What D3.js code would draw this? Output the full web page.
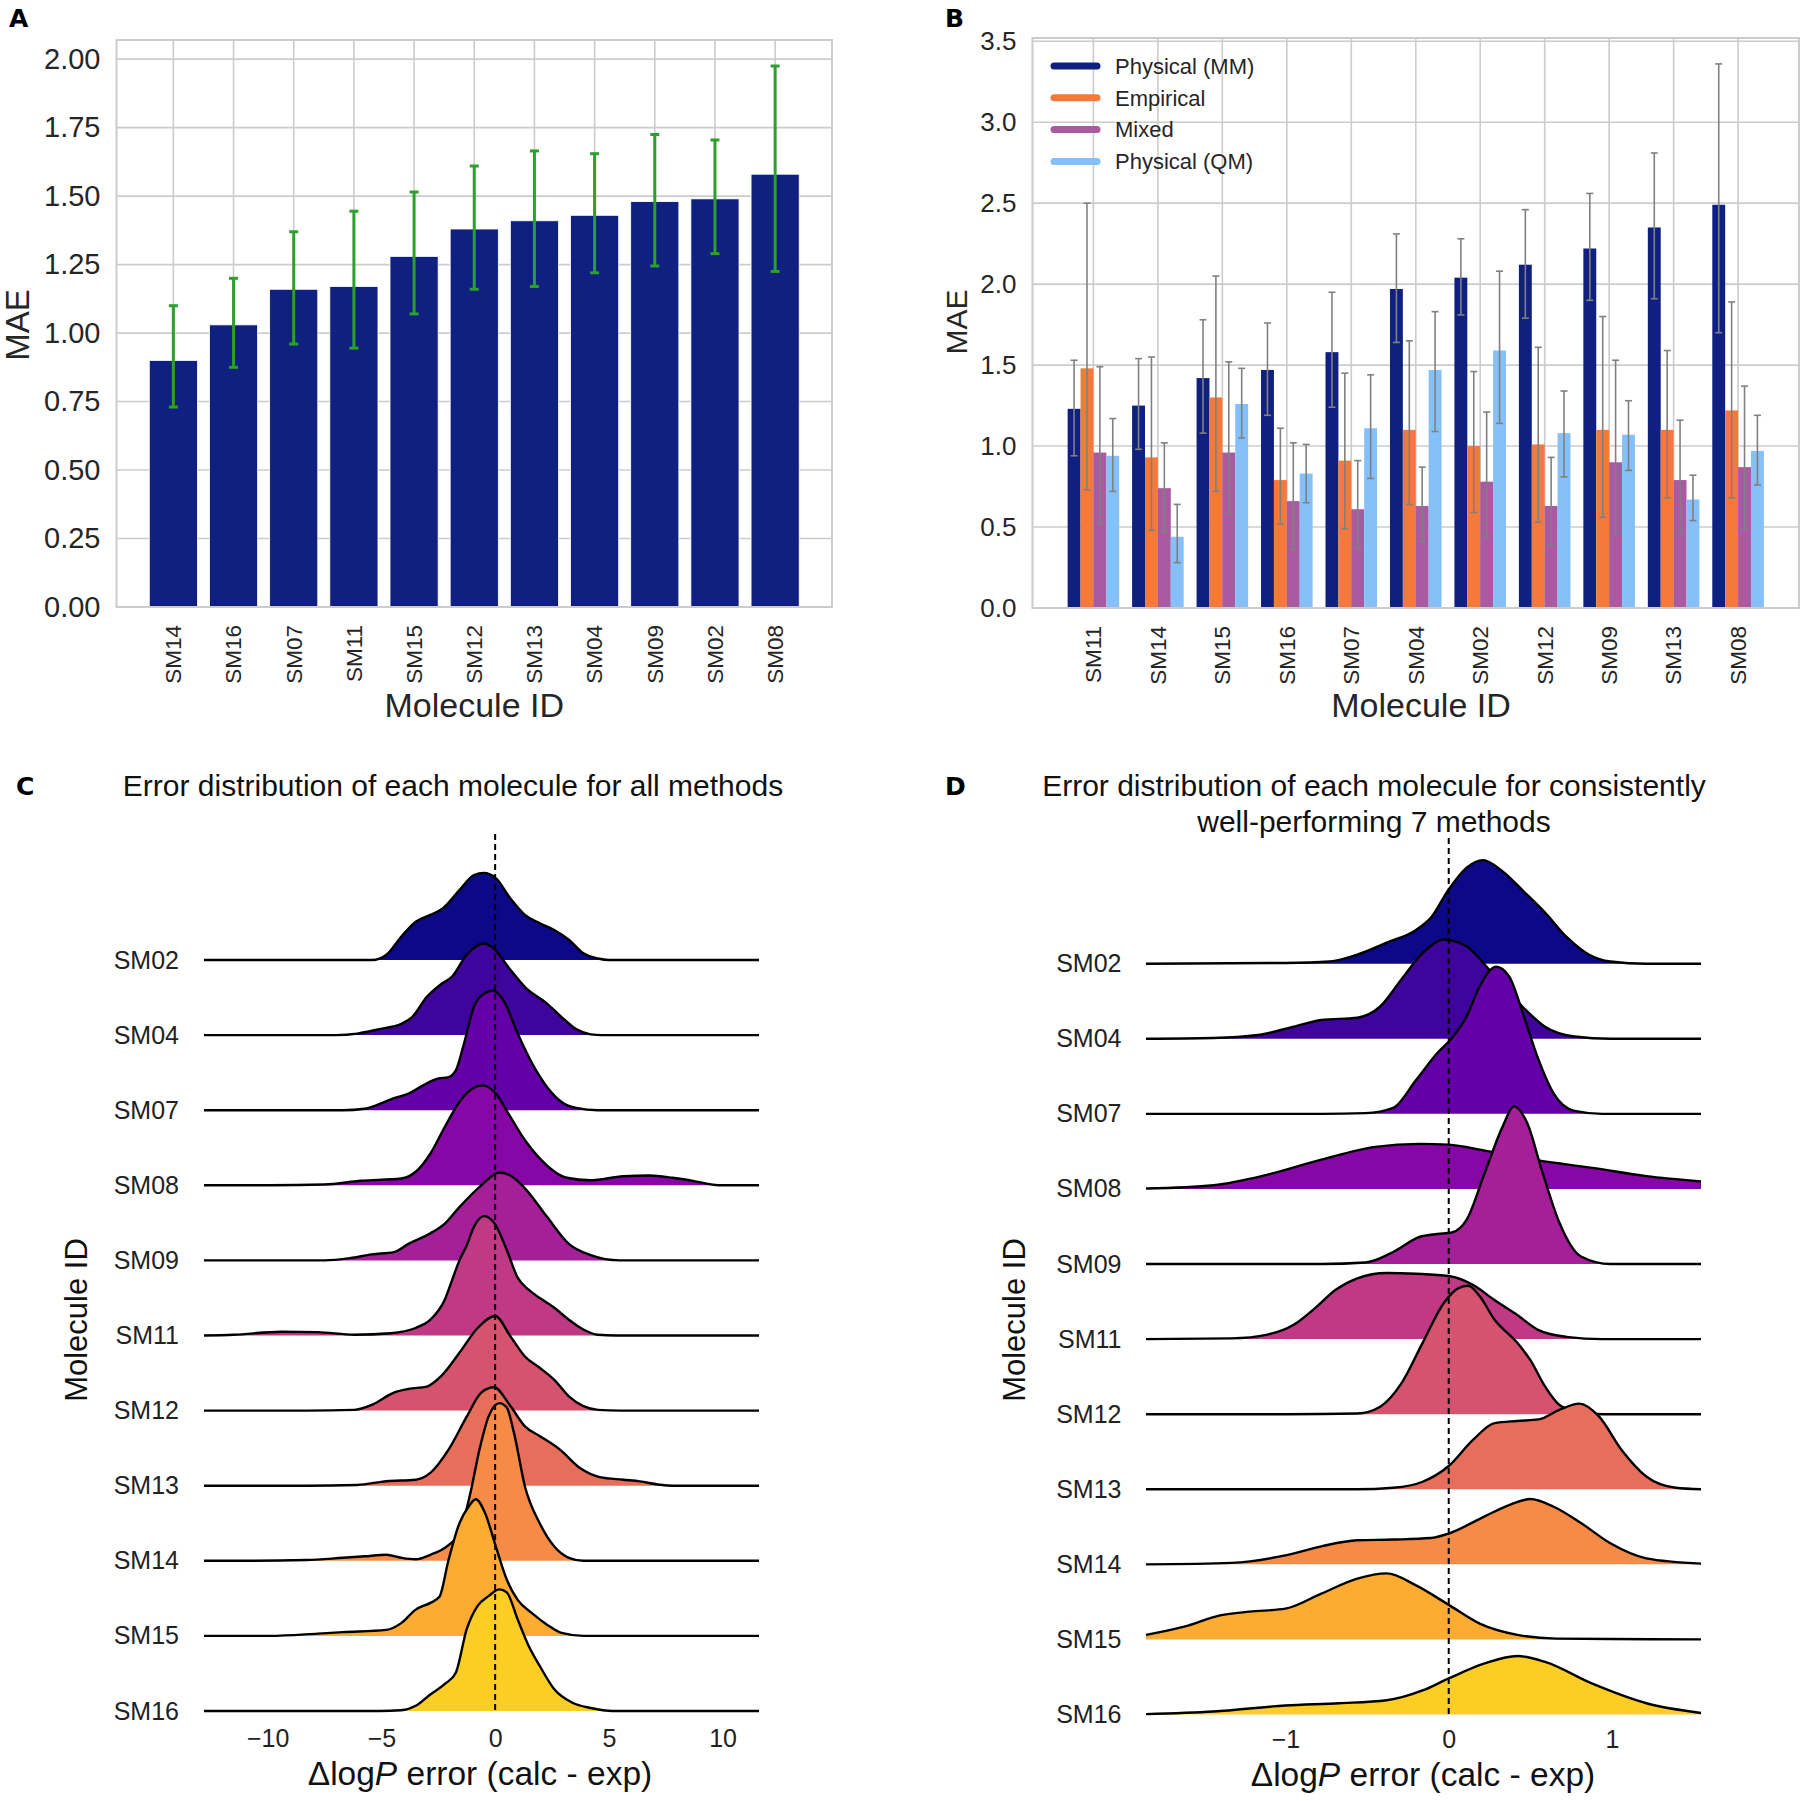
<!DOCTYPE html>
<html>
<head>
<meta charset="utf-8">
<script src="https://cdn.jsdelivr.net/npm/d3@7"></script>
<style>
  body { margin: 0; background: #fff; }
  text { font-family: "Liberation Sans", Arial, Helvetica, sans-serif; }
</style>
</head>
<body>
<div id="fig"></div>
<script>
// ---------- Panel A: MAE per molecule (all methods) ----------
const molA = ["SM14", "SM16", "SM07", "SM11", "SM15", "SM12", "SM13", "SM04", "SM09", "SM02", "SM08"];
const maeA = [0.90, 1.03, 1.16, 1.17, 1.28, 1.38, 1.41, 1.43, 1.48, 1.49, 1.58];
const loA  = [0.73, 0.875, 0.96, 0.945, 1.07, 1.16, 1.17, 1.22, 1.245, 1.29, 1.225];
const hiA  = [1.10, 1.20, 1.37, 1.445, 1.515, 1.61, 1.665, 1.655, 1.725, 1.705, 1.975];

// ---------- Panel B: MAE per molecule by method category ----------
const molB = ["SM11", "SM14", "SM15", "SM16", "SM07", "SM04", "SM02", "SM12", "SM09", "SM13", "SM08"];
const methodsB = ["Physical (MM)", "Empirical", "Mixed", "Physical (QM)"];
const maeMM   = [1.23, 1.25, 1.42, 1.47, 1.58, 1.97, 2.04, 2.12, 2.22, 2.35, 2.49];
const loMM    = [0.94, 0.98, 1.08, 1.19, 1.24, 1.64, 1.81, 1.79, 1.90, 1.91, 1.70];
const hiMM    = [1.53, 1.54, 1.78, 1.76, 1.95, 2.31, 2.28, 2.46, 2.56, 2.81, 3.36];
const maeEmp  = [1.48, 0.93, 1.30, 0.79, 0.91, 1.10, 1.00, 1.01, 1.10, 1.10, 1.22];
const loEmp   = [0.73, 0.48, 0.72, 0.52, 0.49, 0.64, 0.59, 0.53, 0.56, 0.68, 0.68];
const hiEmp   = [2.50, 1.55, 2.05, 1.11, 1.45, 1.65, 1.46, 1.61, 1.80, 1.59, 1.89];
const maeMix  = [0.96, 0.74, 0.96, 0.66, 0.61, 0.63, 0.78, 0.63, 0.90, 0.79, 0.87];
const loMix   = [0.52, 0.47, 0.58, 0.36, 0.37, 0.41, 0.44, 0.39, 0.46, 0.46, 0.49];
const hiMix   = [1.49, 1.02, 1.52, 1.02, 0.91, 0.87, 1.21, 0.93, 1.53, 1.16, 1.37];
const maeQM   = [0.94, 0.44, 1.26, 0.83, 1.11, 1.47, 1.59, 1.08, 1.07, 0.67, 0.97];
const loQM    = [0.72, 0.28, 1.05, 0.65, 0.80, 1.09, 1.14, 0.81, 0.85, 0.54, 0.76];
const hiQM    = [1.17, 0.64, 1.48, 1.01, 1.44, 1.83, 2.08, 1.34, 1.28, 0.82, 1.19];

// ---------- Panels C / D: error densities, [error, relative density] ----------
const rowsRidge = ["SM02", "SM04", "SM07", "SM08", "SM09", "SM11", "SM12", "SM13", "SM14", "SM15", "SM16"];

const cSM02 = [[-12.8,0],[-5.4,0],[-4.78,0.07],[-4.13,0.31],[-3.49,0.51],[-2.85,0.6],[-2.29,0.69],[-1.57,0.93],[-0.93,1.13],[-0.5,1.16],[0.03,1.09],[0.67,0.82],[1.31,0.6],[1.96,0.49],[2.6,0.4],[3.24,0.27],[3.88,0.09],[4.52,0.02],[5.0,0],[11.6,0]];
const cSM04 = [[-12.8,0],[-7.0,0],[-6.06,0.02],[-5.1,0.08],[-4.13,0.15],[-3.65,0.24],[-3.0,0.51],[-2.37,0.68],[-1.89,0.78],[-1.25,1.07],[-0.5,1.22],[-0.13,1.17],[0.67,0.87],[1.31,0.64],[2.28,0.42],[2.92,0.24],[3.56,0.08],[4.2,0.01],[4.68,0],[11.6,0]];
const cSM07 = [[-12.8,0],[-6.7,0],[-5.74,0.02],[-5.1,0.08],[-4.45,0.16],[-3.81,0.22],[-3.17,0.33],[-2.53,0.42],[-2.05,0.44],[-1.73,0.53],[-1.41,0.84],[-0.93,1.38],[-0.45,1.56],[-0.1,1.59],[0.35,1.47],[0.99,1.02],[1.63,0.62],[2.28,0.31],[2.92,0.11],[3.56,0.03],[4.52,0],[11.6,0]];
const cSM08 = [[-12.8,0],[-9.9,0],[-7.5,0.01],[-5.9,0.06],[-4.13,0.09],[-3.49,0.18],[-2.85,0.42],[-2.21,0.78],[-1.57,1.11],[-0.93,1.3],[-0.53,1.33],[0.03,1.22],[0.67,0.91],[1.31,0.6],[1.97,0.355],[3.15,0.1],[4.17,0.067],[5.63,0.12],[6.8,0.13],[7.8,0.1],[8.55,0.067],[9.3,0.022],[9.87,0],[11.6,0]];
const cSM09 = [[-12.8,0],[-7.5,0],[-6.38,0.03],[-5.42,0.08],[-4.45,0.11],[-3.81,0.22],[-2.85,0.36],[-2.21,0.49],[-1.57,0.71],[-0.61,1.0],[0.19,1.17],[0.67,1.13],[1.31,0.96],[2.28,0.58],[3.24,0.22],[4.2,0.07],[5.48,0],[11.6,0]];
const cSM11 = [[-12.8,0],[-11.5,0.01],[-9.4,0.05],[-7.8,0.045],[-6.2,0.01],[-4.6,0.03],[-3.5,0.1],[-2.85,0.21],[-2.21,0.48],[-1.89,0.74],[-1.57,1.0],[-1.25,1.2],[-0.93,1.45],[-0.48,1.59],[0,1.48],[0.51,1.14],[0.99,0.77],[1.47,0.61],[1.96,0.5],[2.6,0.37],[3.24,0.21],[3.88,0.08],[4.52,0.01],[5.3,0],[11.6,0]];
const cSM12 = [[-12.8,0],[-8.3,0],[-6.2,0.01],[-5.4,0.08],[-4.45,0.24],[-3.81,0.29],[-3.0,0.32],[-2.37,0.46],[-1.57,0.77],[-0.77,1.1],[0,1.26],[0.67,0.99],[1.31,0.72],[1.96,0.57],[2.6,0.41],[3.24,0.19],[3.88,0.06],[4.52,0.01],[5.5,0],[11.6,0]];
const cSM13 = [[-12.8,0],[-8.3,0],[-6.06,0.01],[-4.78,0.06],[-3.49,0.08],[-2.85,0.17],[-2.05,0.48],[-1.25,0.92],[-0.61,1.24],[-0.05,1.31],[0.67,1.06],[1.31,0.79],[1.97,0.66],[2.85,0.48],[3.73,0.235],[4.6,0.115],[5.63,0.08],[6.36,0.058],[7.24,0.013],[7.8,0],[11.6,0]];
const cSM14 = [[-12.8,0],[-11.5,0],[-8.3,0.01],[-6.7,0.04],[-5.74,0.06],[-4.78,0.08],[-4.13,0.04],[-3.49,0.02],[-2.85,0.08],[-2.05,0.21],[-1.57,0.37],[-1.09,0.9],[-0.69,1.48],[-0.29,1.92],[0.19,2.1],[0.51,2.04],[0.83,1.7],[1.31,0.99],[1.96,0.5],[2.6,0.19],[3.24,0.04],[3.88,0],[11.6,0]];
const cSM15 = [[-12.8,0],[-9.9,0],[-7.8,0.03],[-6.7,0.05],[-4.78,0.08],[-4.13,0.17],[-3.49,0.35],[-2.85,0.44],[-2.45,0.52],[-2.05,1.01],[-1.57,1.5],[-1.17,1.72],[-0.85,1.82],[-0.45,1.64],[0.03,1.19],[0.51,0.75],[0.99,0.48],[1.63,0.3],[2.28,0.15],[2.92,0.04],[3.88,0],[11.6,0]];
const cSM16 = [[-12.8,0],[-5.1,0],[-4.13,0.01],[-3.49,0.07],[-2.85,0.22],[-2.21,0.36],[-1.73,0.51],[-1.25,1.09],[-0.77,1.4],[-0.29,1.53],[0.19,1.62],[0.51,1.58],[0.99,1.22],[1.47,0.87],[1.96,0.6],[2.6,0.29],[3.4,0.11],[4.2,0.04],[5.16,0],[11.6,0]];

const dSM02 = [[-1.854,0],[-1.0,0.01],[-0.73,0.03],[-0.56,0.12],[-0.38,0.28],[-0.2,0.45],[-0.11,0.61],[0,0.99],[0.11,1.28],[0.21,1.38],[0.33,1.23],[0.46,0.96],[0.59,0.68],[0.72,0.36],[0.86,0.12],[0.99,0.03],[1.21,0],[1.545,0]];
const dSM04 = [[-1.854,0],[-1.44,0.01],[-1.17,0.05],[-0.95,0.16],[-0.78,0.25],[-0.56,0.28],[-0.42,0.43],[-0.29,0.79],[-0.16,1.14],[-0.03,1.32],[0.11,1.23],[0.24,0.94],[0.46,0.41],[0.59,0.16],[0.77,0.03],[0.99,0],[1.545,0]];
const dSM07 = [[-1.854,0],[-0.78,0],[-0.51,0.01],[-0.34,0.08],[-0.2,0.45],[-0.07,0.81],[0.02,1.01],[0.11,1.3],[0.19,1.7],[0.29,1.96],[0.37,1.83],[0.46,1.3],[0.55,0.72],[0.64,0.28],[0.77,0.04],[0.94,0],[1.545,0]];
const dSM08 = [[-1.854,0.005],[-1.44,0.05],[-1.11,0.19],[-0.78,0.39],[-0.45,0.56],[-0.18,0.6],[0,0.59],[0.22,0.51],[0.55,0.38],[0.88,0.28],[1.21,0.17],[1.545,0.1]];
const dSM09 = [[-1.854,0],[-0.78,0],[-0.51,0.02],[-0.34,0.16],[-0.18,0.36],[-0.07,0.4],[0.02,0.42],[0.11,0.59],[0.22,1.21],[0.33,1.83],[0.4,2.1],[0.48,1.88],[0.57,1.25],[0.68,0.54],[0.81,0.1],[0.99,0],[1.545,0]];
const dSM11 = [[-1.854,0],[-1.33,0.01],[-1.11,0.06],[-0.95,0.19],[-0.82,0.41],[-0.69,0.66],[-0.56,0.81],[-0.38,0.88],[-0.2,0.87],[0,0.84],[0.15,0.72],[0.28,0.52],[0.42,0.32],[0.55,0.12],[0.72,0.03],[0.94,0],[1.545,0]];
const dSM12 = [[-1.854,0],[-1.0,0],[-0.56,0.01],[-0.42,0.1],[-0.29,0.41],[-0.16,0.95],[-0.03,1.48],[0.06,1.68],[0.12,1.71],[0.19,1.57],[0.28,1.26],[0.42,0.95],[0.5,0.72],[0.59,0.37],[0.68,0.12],[0.81,0.02],[0.94,0],[1.545,0]];
const dSM13 = [[-1.854,0],[-0.56,0],[-0.34,0.02],[-0.16,0.1],[0,0.31],[0.15,0.66],[0.28,0.88],[0.42,0.91],[0.55,0.93],[0.68,1.06],[0.8,1.14],[0.92,0.97],[1.06,0.52],[1.21,0.17],[1.39,0.02],[1.545,0]];
const dSM14 = [[-1.854,0],[-1.33,0.02],[-1.0,0.12],[-0.78,0.24],[-0.56,0.32],[-0.34,0.33],[-0.11,0.35],[0,0.41],[0.22,0.64],[0.37,0.79],[0.5,0.87],[0.64,0.77],[0.81,0.55],[0.99,0.28],[1.21,0.08],[1.545,0.01]];
const dSM15 = [[-1.854,0.06],[-1.62,0.17],[-1.4,0.32],[-1.22,0.37],[-1.0,0.41],[-0.78,0.61],[-0.56,0.81],[-0.38,0.88],[-0.2,0.72],[0,0.46],[0.19,0.21],[0.42,0.06],[0.66,0.01],[0.99,0.005],[1.545,0]];
const dSM16 = [[-1.854,0.005],[-1.44,0.04],[-1.0,0.12],[-0.67,0.15],[-0.38,0.19],[-0.16,0.32],[0,0.48],[0.22,0.68],[0.42,0.78],[0.59,0.7],[0.88,0.41],[1.21,0.15],[1.545,0.02]];

const ticksC = [-10, -5, 0, 5, 10];
const ticksD = [-1, 0, 1];

// ---------- drawing ----------
const W = 1801, H = 1801;
const svg = d3.select("#fig").append("svg")
    .attr("width", W)
    .attr("height", H)
    .style("background", "#fff");

const gridCol = "#cccccc";
const tickCol = "#262626";
const seriesCol = ["#0F2080", "#F5793A", "#A95AA1", "#85C0F9"];

function panelLetter(t, x, y) {
  svg.append("text")
      .attr("x", x).attr("y", y)
      .style("font-family", "'DejaVu Sans', sans-serif")
      .style("font-size", "25px")
      .style("font-weight", "bold")
      .text(t);
}

// shared frame/grid/axes for the two bar panels
function barFrame(box, cats, yMax, yTicks, fmt, fs) {
  const x = d3.scaleBand().domain(cats)
      .range([box.left, box.right])
      .paddingInner(0.2).paddingOuter(0.545);
  const y = d3.scaleLinear().domain([0, yMax]).range([box.bottom, box.top]);
  const g = svg.append("g");

  // grid
  g.selectAll(".hgrid").data(yTicks).join("line")
      .attr("x1", box.left).attr("x2", box.right)
      .attr("y1", d => y(d)).attr("y2", d => y(d))
      .attr("stroke", gridCol).attr("stroke-width", 1.6);
  g.selectAll(".vgrid").data(cats).join("line")
      .attr("x1", d => x(d) + x.bandwidth() / 2).attr("x2", d => x(d) + x.bandwidth() / 2)
      .attr("y1", box.top).attr("y2", box.bottom)
      .attr("stroke", gridCol).attr("stroke-width", 1.6);

  // y axis labels
  const yAx = g.append("g").attr("transform", `translate(${box.left},0)`)
      .call(d3.axisLeft(y).tickValues(yTicks).tickFormat(fmt).tickSize(0).tickPadding(16));
  yAx.select(".domain").remove();
  yAx.selectAll("text").style("font-size", fs + "px").attr("fill", tickCol);

  // x axis labels, rotated
  const xAx = g.append("g").attr("transform", `translate(0,${box.bottom})`)
      .call(d3.axisBottom(x).tickSize(0));
  xAx.select(".domain").remove();
  xAx.selectAll("text")
      .attr("transform", "rotate(-90)")
      .attr("x", -18).attr("y", 0).attr("dy", "0.35em")
      .style("text-anchor", "end")
      .style("font-size", "22.5px")
      .attr("fill", tickCol);

  return {x, y, g};
}

function frameBorder(box) {
  svg.append("rect")
      .attr("x", box.left).attr("y", box.top)
      .attr("width", box.right - box.left).attr("height", box.bottom - box.top)
      .attr("fill", "none").attr("stroke", gridCol).attr("stroke-width", 2);
}

function errBars(g, xs, lo, hi, color, lw, cap) {
  const eb = g.append("g");
  xs.forEach((cx, i) => {
    eb.append("line").attr("x1", cx).attr("x2", cx)
        .attr("y1", lo[i]).attr("y2", hi[i])
        .attr("stroke", color).attr("stroke-width", lw);
    [lo[i], hi[i]].forEach(v => {
      eb.append("line").attr("x1", cx - cap / 2).attr("x2", cx + cap / 2)
          .attr("y1", v).attr("y2", v)
          .attr("stroke", color).attr("stroke-width", lw);
    });
  });
}

// ----- Panel A -----
const boxA = {left: 116.5, right: 832, top: 40, bottom: 607};
const pA = barFrame(boxA, molA, 2.07, [0, 0.25, 0.5, 0.75, 1.0, 1.25, 1.5, 1.75, 2.0], d3.format(".2f"), 29);
pA.g.selectAll(".bar").data(molA).join("rect")
    .attr("x", d => pA.x(d))
    .attr("width", pA.x.bandwidth())
    .attr("y", (d, i) => pA.y(maeA[i]))
    .attr("height", (d, i) => pA.y(0) - pA.y(maeA[i]))
    .attr("fill", seriesCol[0])
    .attr("stroke", "#ffffff").attr("stroke-width", 0.8);
errBars(pA.g, molA.map(d => pA.x(d) + pA.x.bandwidth() / 2),
    loA.map(pA.y), hiA.map(pA.y), "#2ca02c", 3, 9);
frameBorder(boxA);

svg.append("text")
    .attr("transform", "translate(17,325) rotate(-90)")
    .attr("dy", "0.35em")
    .style("text-anchor", "middle").style("font-size", "33px").attr("fill", tickCol)
    .text("MAE");
svg.append("text")
    .attr("x", (boxA.left + boxA.right) / 2).attr("y", 717)
    .style("text-anchor", "middle").style("font-size", "34px").attr("fill", tickCol)
    .text("Molecule ID");
panelLetter("A", 9, 27);

// ----- Panel B -----
const boxB = {left: 1032.5, right: 1799, top: 38, bottom: 608};
const pB = barFrame(boxB, molB, 3.52, [0, 0.5, 1.0, 1.5, 2.0, 2.5, 3.0, 3.5], d3.format(".1f"), 26);
const inner = d3.scaleBand().domain(methodsB).range([0, pB.x.bandwidth()]).padding(0);
const seriesB = [
  {name: methodsB[0], v: maeMM,  lo: loMM,  hi: hiMM},
  {name: methodsB[1], v: maeEmp, lo: loEmp, hi: hiEmp},
  {name: methodsB[2], v: maeMix, lo: loMix, hi: hiMix},
  {name: methodsB[3], v: maeQM,  lo: loQM,  hi: hiQM}
];
seriesB.forEach((s, k) => {
  pB.g.append("g").selectAll("rect").data(molB).join("rect")
      .attr("x", d => pB.x(d) + inner(s.name))
      .attr("width", inner.bandwidth())
      .attr("y", (d, i) => pB.y(s.v[i]))
      .attr("height", (d, i) => pB.y(0) - pB.y(s.v[i]))
      .attr("fill", seriesCol[k]);
});
seriesB.forEach(s => {
  errBars(pB.g, molB.map(d => pB.x(d) + inner(s.name) + inner.bandwidth() / 2),
      s.lo.map(pB.y), s.hi.map(pB.y), "#808080", 1.6, 7);
});
frameBorder(boxB);

// legend
const leg = svg.append("g");
methodsB.forEach((m, k) => {
  const ly = 66 + k * 31.8;
  leg.append("line").attr("x1", 1054).attr("x2", 1097).attr("y1", ly).attr("y2", ly)
      .attr("stroke", seriesCol[k]).attr("stroke-width", 7).attr("stroke-linecap", "round");
  leg.append("text").attr("x", 1115).attr("y", ly).attr("dy", "0.35em")
      .style("font-size", "22px").attr("fill", tickCol).text(m);
});

svg.append("text")
    .attr("transform", "translate(956,322) rotate(-90)")
    .attr("dy", "0.35em")
    .style("text-anchor", "middle").style("font-size", "30px").attr("fill", tickCol)
    .text("MAE");
svg.append("text")
    .attr("x", 1421).attr("y", 717)
    .style("text-anchor", "middle").style("font-size", "34px").attr("fill", tickCol)
    .text("Molecule ID");
panelLetter("B", 945, 27);

// ----- Ridge panels C / D -----
function ridgePanel(cfg) {
  const x = d3.scaleLinear().domain(cfg.xDomain).range(cfg.xRange);
  const rows = d3.scalePoint().domain(rowsRidge).range([cfg.yFirst, cfg.yLast]);
  const step = (cfg.yLast - cfg.yFirst) / (rowsRidge.length - 1);
  const h = d3.scaleLinear().domain([0, 1]).range([0, step]);
  const color = d3.scaleSequential(d3.interpolatePlasma).domain([0, (rowsRidge.length - 1) / 0.9]);
  const g = svg.append("g");

  cfg.dens.forEach((pts, i) => {
    const base = rows(rowsRidge[i]);
    const area = d3.area()
        .x(d => x(d[0])).y0(base).y1(d => base - h(d[1]))
        .curve(d3.curveMonotoneX);
    const line = d3.line()
        .x(d => x(d[0])).y(d => base - h(d[1]))
        .curve(d3.curveMonotoneX);
    const rg = g.append("g");
    rg.append("path").attr("d", area(pts)).attr("fill", color(i));
    rg.append("path").attr("d", line(pts))
        .attr("fill", "none").attr("stroke", "#000").attr("stroke-width", 2.4)
        .attr("stroke-linejoin", "round");
  });

  // zero reference
  g.append("line")
      .attr("x1", x(0)).attr("x2", x(0))
      .attr("y1", cfg.dashTop).attr("y2", cfg.yLast)
      .attr("stroke", "#000").attr("stroke-width", 2)
      .attr("stroke-dasharray", "6,4");

  // row labels
  const yAx = g.append("g").attr("transform", `translate(${cfg.labelRight},0)`)
      .call(d3.axisLeft(rows).tickSize(0).tickPadding(0));
  yAx.select(".domain").remove();
  yAx.selectAll("text").style("font-size", "25px").attr("fill", "#222");

  // x axis tick labels
  const xAx = g.append("g").attr("transform", `translate(0,${cfg.tickY})`)
      .call(d3.axisBottom(x).tickValues(cfg.ticks).tickFormat(d3.format("d")).tickSize(0).tickPadding(0));
  xAx.select(".domain").remove();
  xAx.selectAll("text").attr("dy", 0).style("font-size", "25px").attr("fill", "#222");

  // axis titles
  const xt = svg.append("text")
      .attr("x", cfg.xLabelX).attr("y", cfg.xLabelY)
      .style("text-anchor", "middle").style("font-size", "33.5px").attr("fill", "#111");
  xt.append("tspan").text("\u0394log");
  xt.append("tspan").style("font-style", "italic").text("P");
  xt.append("tspan").text(" error (calc - exp)");

  svg.append("text")
      .attr("transform", `translate(${cfg.yLabelX},1320) rotate(-90)`)
      .attr("dy", "0.35em")
      .style("text-anchor", "middle").style("font-size", "31px").attr("fill", "#111")
      .text("Molecule ID");

  const tt = svg.append("text")
      .style("text-anchor", "middle").style("font-size", "30px").attr("fill", "#111");
  cfg.title.forEach((t, k) => {
    tt.append("tspan").attr("x", cfg.titleX).attr("y", 796 + k * 36).text(t);
  });
}

ridgePanel({
  xDomain: [-12.8, 11.6], xRange: [204, 759],
  yFirst: 960, yLast: 1711, dashTop: 834,
  dens: [cSM02, cSM04, cSM07, cSM08, cSM09, cSM11, cSM12, cSM13, cSM14, cSM15, cSM16],
  ticks: ticksC, tickY: 1747, labelRight: 179,
  xLabelX: 480, xLabelY: 1785, yLabelX: 76,
  title: ["Error distribution of each molecule for all methods"], titleX: 453
});
panelLetter("C", 16, 795);

ridgePanel({
  xDomain: [-1.854, 1.545], xRange: [1146, 1701],
  yFirst: 963.7, yLast: 1714.5, dashTop: 838,
  dens: [dSM02, dSM04, dSM07, dSM08, dSM09, dSM11, dSM12, dSM13, dSM14, dSM15, dSM16],
  ticks: ticksD, tickY: 1748, labelRight: 1121.5,
  xLabelX: 1423, xLabelY: 1786, yLabelX: 1014,
  title: ["Error distribution of each molecule for consistently", "well-performing 7 methods"], titleX: 1374
});
panelLetter("D", 945, 795);
</script>
</body>
</html>
